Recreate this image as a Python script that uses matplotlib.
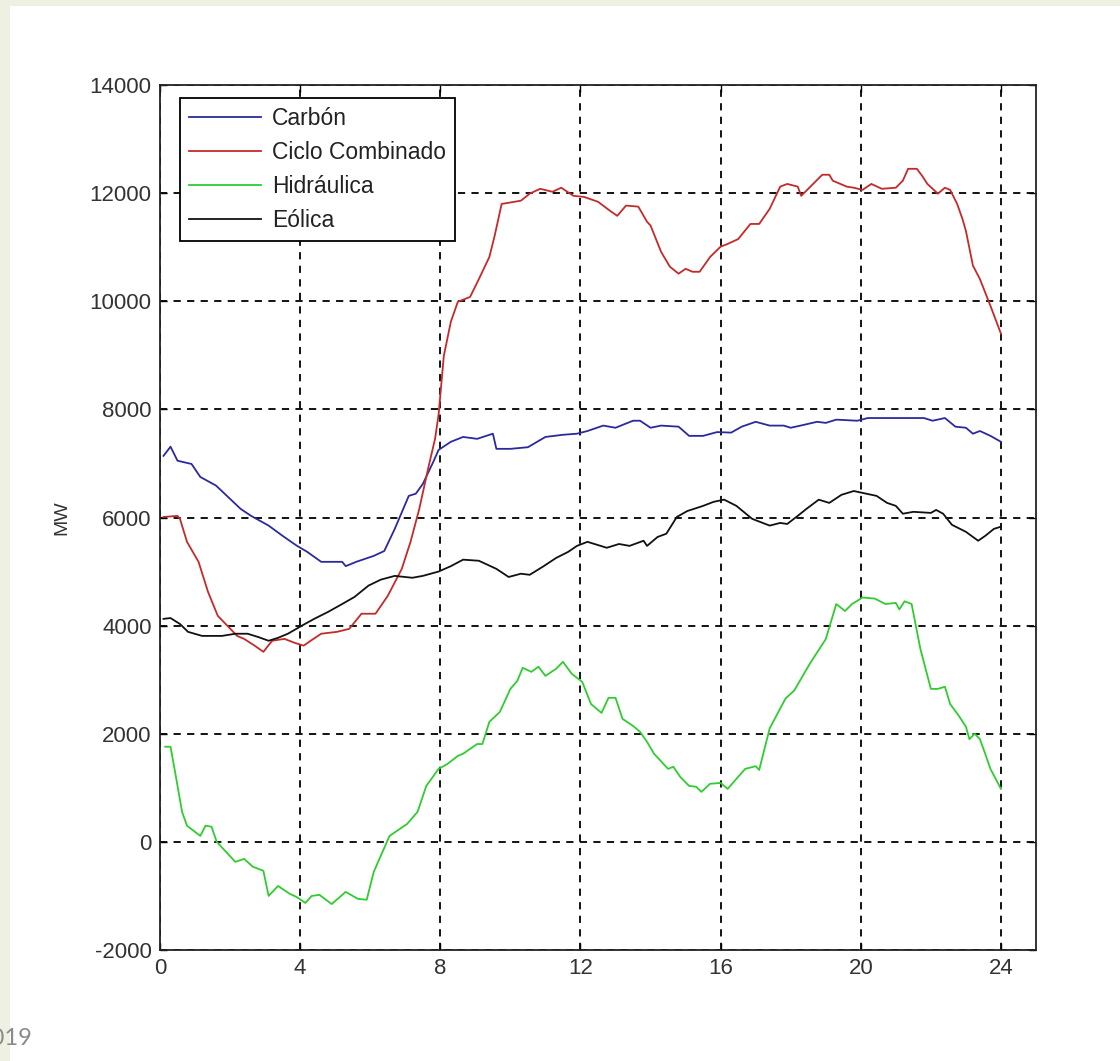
import matplotlib
matplotlib.use("Agg")
import matplotlib.pyplot as plt
from matplotlib.patches import Rectangle

# ---- data (hours, MW) ----
carbon_x = [0.1, 0.3, 0.5, 0.9, 1.15, 1.6, 2.3, 2.6, 3.1, 3.5, 3.9, 4.2, 4.6, 5.2, 5.3, 5.6,
            6.1, 6.4, 6.7, 7.1, 7.3, 7.5, 7.8, 7.95, 8.3, 8.65, 9.05, 9.5, 9.6, 10.0, 10.5,
            11.0, 11.5, 11.9, 12.2, 12.65, 13.0, 13.5, 13.7, 14.0, 14.3, 14.8, 15.1, 15.5,
            15.9, 16.3, 16.6, 17.0, 17.4, 17.8, 18.0, 18.35, 18.75, 19.0, 19.3, 19.9, 20.2,
            21.8, 22.05, 22.4, 22.7, 23.0, 23.2, 23.4, 23.7, 24.0]
carbon_y = [7140, 7310, 7050, 6990, 6750, 6590, 6160, 6030, 5850, 5660, 5480, 5365, 5180, 5180,
            5100, 5180, 5290, 5380, 5790, 6400, 6440, 6620, 7030, 7250, 7400, 7490, 7455, 7550,
            7270, 7270, 7300, 7490, 7530, 7550, 7600, 7700, 7660, 7790, 7790, 7660, 7700, 7680,
            7510, 7510, 7580, 7570, 7680, 7770, 7700, 7700, 7660, 7710, 7770, 7750, 7810, 7790,
            7840, 7840, 7790, 7840, 7680, 7660, 7550, 7600, 7510, 7400]

ciclo_x = [0.1, 0.5, 0.57, 0.77, 1.1, 1.37, 1.65, 1.95, 2.2, 2.4, 2.7, 2.95, 3.2, 3.55, 3.85,
           4.1, 4.3, 4.6, 5.05, 5.4, 5.75, 6.15, 6.5, 6.9, 7.15, 7.4, 7.65, 7.85, 7.95, 8.1,
           8.3, 8.5, 8.85, 9.1, 9.4, 9.55, 9.75, 10.3, 10.55, 10.85, 11.2, 11.45, 11.8, 12.1,
           12.5, 12.85, 13.05, 13.3, 13.65, 13.9, 14.0, 14.3, 14.55, 14.8, 15.0, 15.2, 15.4,
           15.7, 16.0, 16.2, 16.5, 16.85, 17.1, 17.4, 17.7, 17.9, 18.2, 18.3, 18.5, 18.9, 19.1,
           19.2, 19.6, 19.8, 20.05, 20.3, 20.6, 21.0, 21.2, 21.35, 21.6, 21.75, 21.9, 22.2,
           22.4, 22.55, 22.75, 22.9, 23.0, 23.2, 23.4, 23.7, 24.0]
ciclo_y = [6010, 6030, 5975, 5550, 5180, 4625, 4180, 3980, 3810, 3755, 3630, 3515, 3720, 3755,
           3680, 3630, 3720, 3850, 3885, 3940, 4220, 4220, 4550, 5050, 5550, 6160, 6900, 7455,
           7900, 8990, 9620, 9990, 10080, 10410, 10820, 11210, 11800, 11860, 11990, 12080,
           12025, 12100, 11950, 11930, 11840, 11670, 11580, 11770, 11750, 11470, 11400, 10915,
           10640, 10510, 10600, 10545, 10545, 10820, 11010, 11060, 11150, 11430, 11430, 11710,
           12120, 12170, 12120, 11950, 12080, 12340, 12340, 12230, 12120, 12100, 12060, 12170,
           12080, 12100, 12230, 12450, 12450, 12320, 12170, 11990, 12100, 12060, 11800, 11525,
           11300, 10660, 10410, 9915, 9400]

hidro_x = [0.15, 0.3, 0.43, 0.63, 0.77, 1.15, 1.3, 1.47, 1.62, 2.15, 2.4, 2.65, 2.95, 3.1,
           3.37, 3.7, 3.9, 4.15, 4.33, 4.55, 4.9, 5.3, 5.65, 5.9, 6.1, 6.55, 7.05, 7.35, 7.6,
           7.95, 8.2, 8.5, 8.65, 9.05, 9.2, 9.4, 9.7, 10.0, 10.2, 10.35, 10.6, 10.8, 11.0, 11.3,
           11.5, 11.75, 12.05, 12.3, 12.6, 12.8, 13.0, 13.2, 13.5, 13.7, 13.9, 14.1, 14.5,
           14.65, 14.85, 15.1, 15.3, 15.45, 15.7, 16.0, 16.2, 16.7, 17.0, 17.1, 17.4, 17.85,
           18.1, 18.55, 19.0, 19.3, 19.55, 19.75, 20.05, 20.4, 20.7, 21.0, 21.1, 21.25, 21.45,
           21.7, 22.0, 22.2, 22.4, 22.55, 22.8, 23.0, 23.1, 23.25, 23.4, 23.55, 23.7, 23.85, 24.0]
hidro_y = [1760, 1760, 1295, 555, 300, 110, 300, 280, 0, -370, -315, -460, -535, -1000, -815,
           -960, -1020, -1130, -1000, -980, -1150, -925, -1055, -1070, -555, 110, 330, 555,
           1035, 1350, 1440, 1590, 1630, 1810, 1810, 2220, 2405, 2830, 2980, 3220, 3145, 3240,
           3070, 3200, 3330, 3110, 2960, 2550, 2385, 2665, 2665, 2275, 2145, 2035, 1850, 1630,
           1350, 1390, 1200, 1035, 1020, 925, 1075, 1090, 980, 1350, 1400, 1330, 2100, 2650,
           2800, 3300, 3750, 4400, 4270, 4400, 4520, 4500, 4400, 4420, 4300, 4450, 4400, 3570,
           2830, 2830, 2870, 2550, 2330, 2130, 1900, 2000, 1900, 1630, 1350, 1165, 980]

eolica_x = [0.1, 0.3, 0.57, 0.8, 1.2, 1.77, 2.15, 2.5, 2.8, 3.1, 3.37, 3.65, 4.05, 4.4, 4.8,
            5.2, 5.55, 5.95, 6.3, 6.7, 7.2, 7.5, 7.95, 8.3, 8.65, 9.1, 9.6, 9.95, 10.3, 10.55,
            10.95, 11.3, 11.65, 11.9, 12.2, 12.75, 13.1, 13.4, 13.8, 13.9, 14.2, 14.45, 14.75,
            15.05, 15.5, 15.8, 16.1, 16.45, 16.9, 17.4, 17.7, 17.9, 18.2, 18.45, 18.8, 19.1,
            19.45, 19.8, 20.05, 20.45, 20.75, 21.0, 21.2, 21.5, 22.0, 22.15, 22.35, 22.6, 23.0,
            23.35, 23.55, 23.8, 24.0]
eolica_y = [4125, 4140, 4030, 3885, 3810, 3810, 3850, 3850, 3790, 3720, 3775, 3850, 4000, 4125,
            4255, 4400, 4530, 4740, 4850, 4920, 4885, 4920, 5000, 5100, 5220, 5200, 5050, 4900,
            4960, 4940, 5100, 5250, 5365, 5475, 5550, 5440, 5510, 5475, 5570, 5475, 5640, 5700,
            6010, 6120, 6215, 6290, 6330, 6215, 5975, 5850, 5900, 5880, 6030, 6160, 6330, 6270,
            6420, 6490, 6455, 6400, 6270, 6215, 6070, 6105, 6085, 6140, 6070, 5865, 5735, 5570,
            5660, 5790, 5830]

labels = ["Carbón", "Ciclo Combinado", "Hidráulica", "Eólica"]
x_ticks = [0, 4, 8, 12, 16, 20, 24]
y_ticks = [-2000, 0, 2000, 4000, 6000, 8000, 10000, 12000, 14000]

plt.rcParams['font.family'] = ['Liberation Sans', 'DejaVu Sans']
plt.rcParams['axes.unicode_minus'] = False

fig = plt.figure(figsize=(11.2, 10.61), dpi=100, facecolor='#eef0e2')
W, H = 1120, 1061
fig.patches.append(Rectangle((10 / W, 0), 1 - 10 / W, 1 - 6 / H, transform=fig.transFigure,
                             facecolor='white', edgecolor='none', zorder=-10))

ax = fig.add_axes([160 / W, 1 - 950 / H, (1036 - 160) / W, (950 - 85) / H])
ax.set_zorder(5)
ax.set_facecolor('white')

ax.plot(carbon_x, carbon_y, color='#2a2a9e', lw=1.3, label=labels[0])
ax.plot(ciclo_x, ciclo_y, color='#c42a2a', lw=1.3, label=labels[1])
ax.plot(hidro_x, hidro_y, color='#30cc30', lw=1.3, label=labels[2])
ax.plot(eolica_x, eolica_y, color='#111111', lw=1.3, label=labels[3])

ax.set_xlim(0, 25)
ax.set_ylim(-2000, 14000)
ax.set_xticks(x_ticks)
ax.set_yticks(y_ticks)
ax.grid(True, color='black', linestyle=(0, (4, 3.5)), linewidth=1.3)
ax.tick_params(direction='in', top=True, right=True, length=5, width=1,
               labelsize=16, labelcolor='#333333', pad=6)
for s in ax.spines.values():
    s.set_linewidth(1.3)
    s.set_color('#222222')

ax.set_ylabel('MW', fontsize=14, color='#333333', labelpad=14)

leg = ax.legend(loc='upper left', bbox_to_anchor=(20 / 876, 1 - 13 / 865), fontsize=16.5,
                frameon=True, fancybox=False, framealpha=1, handlelength=3.15, borderpad=0.4,
                labelspacing=0.48, handletextpad=0.45, borderaxespad=0)
leg.get_frame().set_edgecolor('black')
leg.get_frame().set_linewidth(1.3)
for t in leg.get_texts():
    t.set_color('#222222')

fig.text(33 / W, 1 - 1045 / H, '2019', ha='right', va='baseline', fontsize=17,
         color='#8a8a8a', family=['Lato', 'DejaVu Sans'], zorder=10)

fig.savefig('out.png', dpi=100, facecolor=fig.get_facecolor())
